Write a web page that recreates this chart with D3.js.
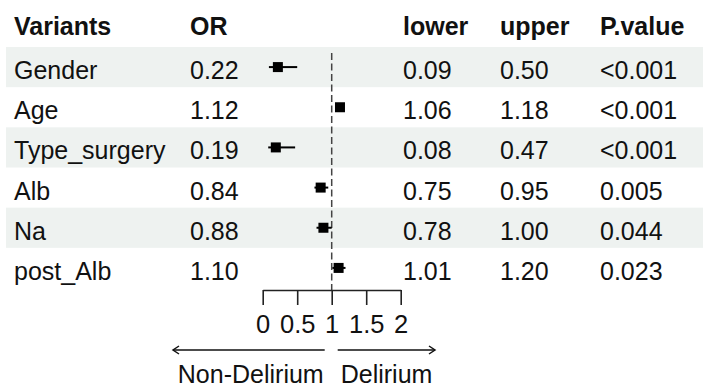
<!DOCTYPE html>
<html>
<head>
<meta charset="utf-8">
<script src="https://cdn.jsdelivr.net/npm/d3@7"></script>
<style>
  html, body { margin: 0; padding: 0; background: #fff; }
  svg { display: block; font-family: "Liberation Sans", Arial, sans-serif; }
</style>
</head>
<body>
<main></main>
<script>
const variants = ["Gender", "Age", "Type_surgery", "Alb", "Na", "post_Alb"]
const oddsRatio = [0.22, 1.12, 0.19, 0.84, 0.88, 1.10]
const lower = [0.09, 1.06, 0.08, 0.75, 0.78, 1.01]
const upper = [0.50, 1.18, 0.47, 0.95, 1.00, 1.20]
const pValue = ["<0.001", "<0.001", "<0.001", "0.005", "0.044", "0.023"]
const headers = ["Variants", "OR", "lower", "upper", "P.value"]
const xTicks = [0, 0.5, 1, 1.5, 2]
const leftLabel = "Non-Delirium"
const rightLabel = "Delirium"

const size = { width: 703, height: 385 }
const fontSize = 25
const textColor = "#111"
const colX = [14, 190, 403, 500, 600]   // Variants, OR, lower, upper, P.value

const svg = d3.select('main')
    .append('svg')
    .attr('width', size.width)
    .attr('height', size.height)

const fmt = d3.format('.2f')

const yScale = d3.scaleBand()
    .domain(variants)
    .range([47, 288])

const xScale = d3.scaleLinear()
    .domain([0, 2])
    .range([262.7, 400.7])

// striped row backgrounds
svg.append('g')
    .selectAll('rect')
    .data(variants.filter((d, i) => i % 2 === 0))
    .enter()
    .append('rect')
    .attr('x', 6)
    .attr('width', size.width - 6)
    .attr('y', d => yScale(d))
    .attr('height', yScale.bandwidth())
    .attr('fill', '#eef2f0')

// header
svg.append('g')
    .selectAll('text')
    .data(headers)
    .enter()
    .append('text')
    .attr('x', (d, i) => colX[i])
    .attr('y', 35)
    .attr('font-size', fontSize)
    .attr('font-weight', 'bold')
    .attr('fill', textColor)
    .text(d => d)

// table body
const rows = svg.append('g')
    .selectAll('g')
    .data(variants)
    .enter()
    .append('g')
    .attr('transform', d => `translate(0, ${yScale(d) + 32})`)

rows.each(function (d, i) {
    const cells = [d, fmt(oddsRatio[i]), fmt(lower[i]), fmt(upper[i]), pValue[i]]
    d3.select(this).selectAll('text')
        .data(cells)
        .enter()
        .append('text')
        .attr('x', (c, j) => colX[j])
        .attr('font-size', fontSize)
        .attr('fill', textColor)
        .text(c => c)
})

// reference line at OR = 1
svg.append('line')
    .attr('x1', xScale(1))
    .attr('x2', xScale(1))
    .attr('y1', 53)
    .attr('y2', 290)
    .attr('stroke', '#444')
    .attr('stroke-width', 1.5)
    .attr('stroke-dasharray', '7,3.5')

// confidence intervals and point estimates
const est = svg.append('g')
    .selectAll('g')
    .data(variants)
    .enter()
    .append('g')

est.append('line')
    .attr('x1', (d, i) => xScale(lower[i]))
    .attr('x2', (d, i) => xScale(upper[i]))
    .attr('y1', d => yScale(d) + yScale.bandwidth() / 2)
    .attr('y2', d => yScale(d) + yScale.bandwidth() / 2)
    .attr('stroke', '#000')
    .attr('stroke-width', 2)

const box = 10
est.append('rect')
    .attr('x', (d, i) => xScale(oddsRatio[i]) - box / 2)
    .attr('y', d => yScale(d) + yScale.bandwidth() / 2 - box / 2)
    .attr('width', box)
    .attr('height', box)
    .attr('fill', '#000')

// x axis
const axis = svg.append('g')
    .attr('transform', 'translate(0, 290)')
    .call(d3.axisBottom(xScale)
        .tickValues(xTicks)
        .tickFormat(d3.format('~g'))
        .tickSize(15)
        .tickSizeOuter(0)
        .tickPadding(10))

axis.selectAll('path, line')
    .attr('stroke', '#222')
    .attr('stroke-width', 1.6)
axis.selectAll('text')
    .attr('font-size', 25.5)
    .attr('font-family', '"Liberation Sans", Arial, sans-serif')
    .attr('fill', textColor)

// direction arrows
const arrowY = 350
const arrow = (x1, x2) => {
    const dir = Math.sign(x2 - x1)
    svg.append('line')
        .attr('x1', x1).attr('x2', x2)
        .attr('y1', arrowY).attr('y2', arrowY)
        .attr('stroke', '#111').attr('stroke-width', 1.5)
    svg.append('path')
        .attr('d', `M${x2 - dir * 6},${arrowY - 4}L${x2},${arrowY}L${x2 - dir * 6},${arrowY + 4}`)
        .attr('fill', 'none')
        .attr('stroke', '#111')
        .attr('stroke-width', 1.5)
}
arrow(xScale(1) - 7, 173)
arrow(xScale(1) + 6, 435)

svg.append('text')
    .attr('x', xScale(1) - 8)
    .attr('y', 383)
    .attr('text-anchor', 'end')
    .attr('font-size', fontSize)
    .attr('fill', textColor)
    .text(leftLabel)

svg.append('text')
    .attr('x', xScale(1) + 9)
    .attr('y', 383)
    .attr('font-size', fontSize)
    .attr('fill', textColor)
    .text(rightLabel)
</script>
</body>
</html>
